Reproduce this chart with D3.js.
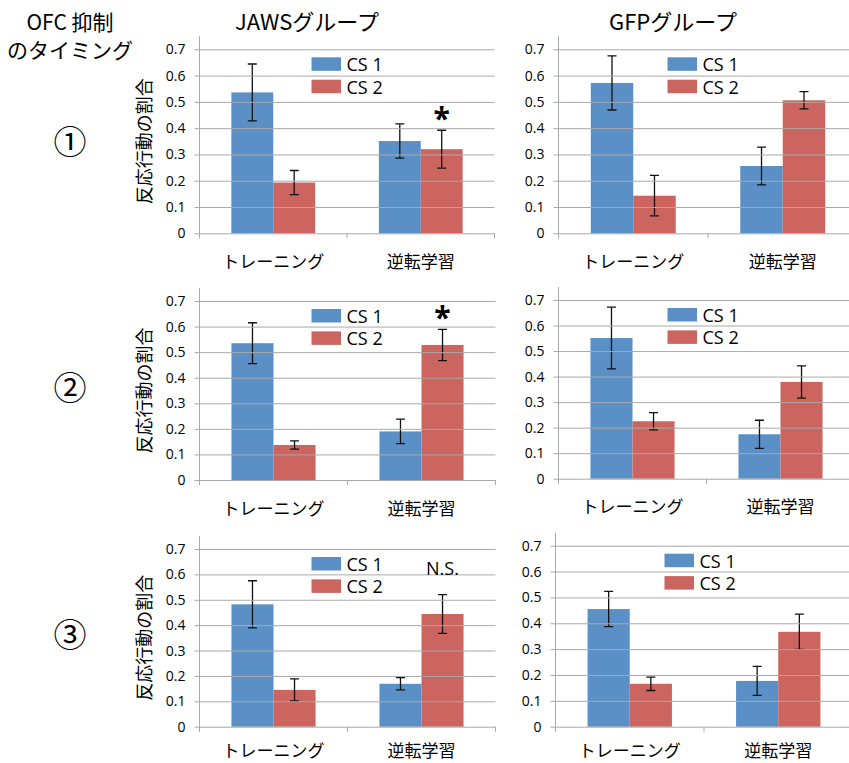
<!DOCTYPE html>
<html>
<head>
<meta charset="utf-8">
<script src="https://cdn.jsdelivr.net/npm/d3@7"></script>
<style>
  html, body { margin: 0; padding: 0; background: #fff; }
  svg { display: block; }
  text { font-family: "Open Sans", "Noto Sans CJK JP", sans-serif; fill: #000; }
  .jp { font-family: "Noto Sans CJK JP", sans-serif; }
</style>
</head>
<body>
<svg id="chart" width="849" height="763"></svg>
<script>
// ---- data ----
const groups = ["JAWSグループ", "GFPグループ"];
const timingLabels = ["①", "②", "③"];
const rowHeader = ["OFC 抑制", "のタイミング"];
const categories = ["トレーニング", "逆転学習"];
const seriesNames = ["CS 1", "CS 2"];
const yTickValues = [0, 0.1, 0.2, 0.3, 0.4, 0.5, 0.6, 0.7];
const yTitle = "反応行動の割合";

// mean proportion, [timing][category]
const jawsCS1 = [[0.536, 0.351], [0.535, 0.190], [0.482, 0.169]];
const jawsCS2 = [[0.193, 0.320], [0.137, 0.528], [0.145, 0.444]];
const gfpCS1  = [[0.572, 0.256], [0.551, 0.174], [0.455, 0.177]];
const gfpCS2  = [[0.143, 0.506], [0.225, 0.379], [0.166, 0.367]];

// standard error, [timing][category]
const jawsCS1Err = [[0.108, 0.065], [0.080, 0.048], [0.093, 0.024]];
const jawsCS2Err = [[0.046, 0.072], [0.016, 0.061], [0.043, 0.076]];
const gfpCS1Err  = [[0.103, 0.072], [0.121, 0.055], [0.068, 0.056]];
const gfpCS2Err  = [[0.077, 0.033], [0.034, 0.063], [0.026, 0.068]];

// significance label above reversal-learning CS 2 (JAWS group)
const jawsMarks = ["*", "*", "N.S."];

// ---- layout ----
const colors = { "CS 1": "#5b90c6", "CS 2": "#cc6460" };
const gridColor = "#a9a9a9";
// plot frames: left, top (0.7 line), bottom (0 line), width
const frames = [
  [{ x: 199.5, top: 49.3, bottom: 233.3, w: 295 }, { x: 558.5, top: 49.3, bottom: 233.3, w: 299 }],
  [{ x: 199.5, top: 301,  bottom: 480,   w: 296 }, { x: 558.5, top: 300,  bottom: 478.7, w: 296 }],
  [{ x: 199.5, top: 549,  bottom: 726.7, w: 296 }, { x: 555.5, top: 545.7, bottom: 726.7, w: 297 }]
];
const rowCentersY = [140, 386, 633];
const labelOffset = [27, 27, 23];

const svg = d3.select("#chart");
svg.append("rect").attr("width", 849).attr("height", 763).attr("fill", "#fff");

// column and row headers
svg.append("text").attr("class", "jp").attr("x", 70).attr("y", 30)
  .attr("text-anchor", "middle").attr("font-size", 21).text(rowHeader[0]);
svg.append("text").attr("class", "jp").attr("x", 70).attr("y", 58)
  .attr("text-anchor", "middle").attr("font-size", 21).text(rowHeader[1]);
const headerX = [307, 673];
groups.forEach((g, i) => {
  svg.append("text").attr("class", "jp").attr("x", headerX[i]).attr("y", 30)
    .attr("text-anchor", "middle").attr("font-size", 22).text(g);
});
timingLabels.forEach((t, r) => {
  svg.append("text").attr("class", "jp").attr("x", 70).attr("y", rowCentersY[r])
    .attr("text-anchor", "middle").attr("dominant-baseline", "central")
    .attr("font-size", 33).text(t);
});

const panelData = [
  { means: [jawsCS1, jawsCS2], errs: [jawsCS1Err, jawsCS2Err], marks: jawsMarks, title: true },
  { means: [gfpCS1, gfpCS2],   errs: [gfpCS1Err, gfpCS2Err],   marks: null,      title: false }
];

const defs = svg.append("defs");

frames.forEach((row, r) => {
  row.forEach((f, c) => {
    const pd = panelData[c];
    const clipId = "clip" + r + c;
    defs.append("clipPath").attr("id", clipId)
      .append("rect").attr("x", 0).attr("y", f.top - 30)
      .attr("width", 849 - f.x).attr("height", f.bottom - f.top + 60);

    const g = svg.append("g").attr("transform", `translate(${f.x},0)`)
      .attr("clip-path", `url(#${clipId})`);
    const gOut = svg.append("g").attr("transform", `translate(${f.x},0)`);

    const y = d3.scaleLinear().domain([0, 0.7]).range([f.bottom, f.top]);
    const x0 = d3.scaleBand().domain(categories).range([0, f.w]).padding(0);
    const x1 = d3.scaleBand().domain(seriesNames).range([0, x0.bandwidth()])
      .paddingInner(0).paddingOuter(0.76);

    // horizontal gridlines with left ticks
    const yAxis = d3.axisLeft(y).tickValues(yTickValues)
      .tickSize(-(f.w + 5)).tickSizeOuter(0)
      .tickFormat(d => d === 0 ? "0" : d3.format(".1f")(d));
    const ya = gOut.append("g").attr("transform", "translate(-5,0)");
    ya.call(yAxis);
    ya.select(".domain").remove();
    ya.selectAll(".tick line").attr("stroke", gridColor).attr("x1", 0).attr("x2", f.w + 5);
    ya.selectAll(".tick text").attr("x", -9).attr("font-size", 14)
      .style("font-family", "'Open Sans', sans-serif").attr("fill", "#000");

    // vertical axis line
    gOut.append("line").attr("x1", 0).attr("x2", 0)
      .attr("y1", f.top - 13).attr("y2", f.bottom + 5)
      .attr("stroke", gridColor);
    // category boundary ticks below the zero line
    [0, 1, 2].forEach(k => {
      const xx = k * x0.step();
      gOut.append("line").attr("x1", xx).attr("x2", xx)
        .attr("y1", f.bottom).attr("y2", f.bottom + 5).attr("stroke", gridColor);
    });

    // bars
    const bars = [];
    categories.forEach((cat, ci) => {
      seriesNames.forEach((s, si) => {
        bars.push({ cat, s, v: pd.means[si][r][ci], e: pd.errs[si][r][ci] });
      });
    });
    g.selectAll("rect.bar").data(bars).enter().append("rect")
      .attr("class", "bar")
      .attr("x", d => x0(d.cat) + x1(d.s))
      .attr("y", d => y(d.v))
      .attr("width", x1.bandwidth())
      .attr("height", d => y(0) - y(d.v))
      .attr("fill", d => colors[d.s]);

    // error bars
    const eb = g.selectAll("g.err").data(bars).enter().append("g").attr("class", "err")
      .attr("transform", d => `translate(${x0(d.cat) + x1(d.s) + x1.bandwidth() / 2},0)`);
    eb.append("line").attr("x1", 0).attr("x2", 0)
      .attr("y1", d => y(d.v + d.e)).attr("y2", d => y(d.v - d.e))
      .attr("stroke", "#111").attr("stroke-width", 1.3);
    eb.append("line").attr("x1", -4.5).attr("x2", 4.5)
      .attr("y1", d => y(d.v + d.e)).attr("y2", d => y(d.v + d.e))
      .attr("stroke", "#111").attr("stroke-width", 1.3);
    eb.append("line").attr("x1", -4.5).attr("x2", 4.5)
      .attr("y1", d => y(d.v - d.e)).attr("y2", d => y(d.v - d.e))
      .attr("stroke", "#111").attr("stroke-width", 1.3);

    // category labels
    categories.forEach(cat => {
      gOut.append("text").attr("class", "jp")
        .attr("x", x0(cat) + x0.bandwidth() / 2).attr("y", f.bottom + labelOffset[r])
        .attr("text-anchor", "middle").attr("dominant-baseline", "central")
        .attr("font-size", 17).text(cat);
    });

    // legend
    const lg = gOut.append("g").attr("transform", `translate(${c === 0 ? 112 : 109},${f.top + 8})`);
    seriesNames.forEach((s, si) => {
      lg.append("rect").attr("x", 0).attr("y", si * 22.4).attr("width", 29.5).attr("height", 13.5)
        .attr("fill", colors[s]);
      lg.append("text").attr("x", 35).attr("y", si * 22.4 + 6.9)
        .attr("dominant-baseline", "central").attr("font-size", 18).text(s);
    });

    // significance mark
    if (pd.marks) {
      const m = pd.marks[r];
      const cx = x0(categories[1]) + x1(seriesNames[1]) + x1.bandwidth() / 2;
      if (m === "*") {
        const v = pd.means[1][r][1] + pd.errs[1][r][1];
        gOut.append("text").attr("x", cx).attr("y", y(v) - 1)
          .attr("text-anchor", "middle").attr("font-size", 30).attr("font-weight", "bold")
          .text(m);
      } else {
        gOut.append("text").attr("x", cx).attr("y", f.top + 19)
          .attr("text-anchor", "middle").attr("dominant-baseline", "central")
          .attr("font-size", 18).text(m);
      }
    }

    // y-axis title
    if (pd.title) {
      svg.append("text").attr("class", "jp")
        .attr("transform", `translate(143,${(f.top + f.bottom) / 2}) rotate(-90)`)
        .attr("text-anchor", "middle").attr("dominant-baseline", "central")
        .attr("font-size", 18).text(yTitle);
    }
  });
});
</script>
</body>
</html>
